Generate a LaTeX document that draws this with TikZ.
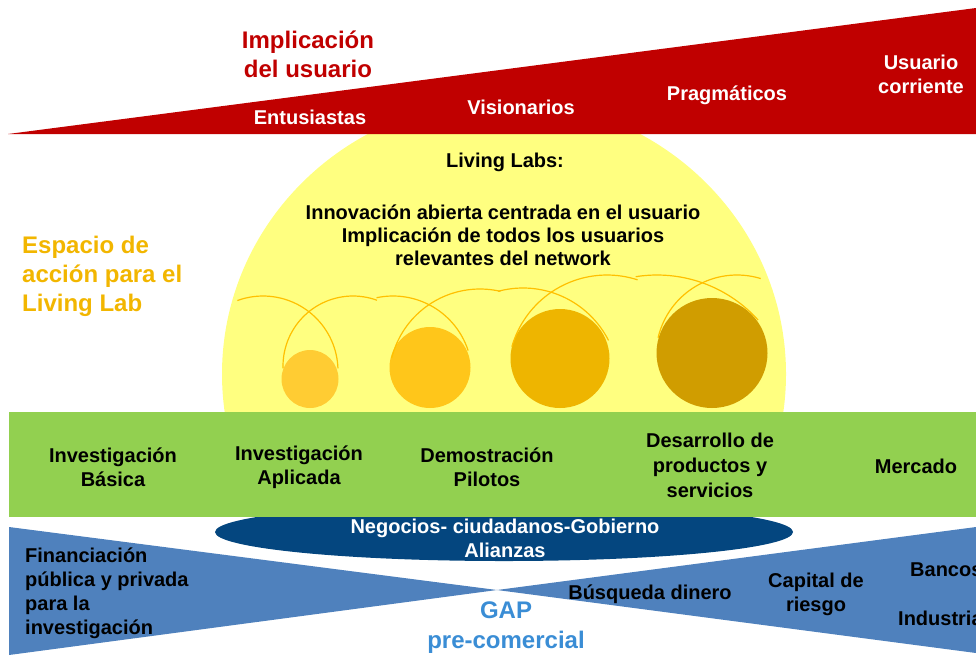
\documentclass[tikz,border=0pt]{standalone}
\usepackage{fontspec}
\setmainfont{Liberation Sans}
\definecolor{redc}{HTML}{C00000}
\definecolor{yelc}{HTML}{FFFF80}
\definecolor{greenc}{HTML}{92D050}
\definecolor{navyc}{HTML}{04467F}
\definecolor{bluec}{HTML}{4F81BD}
\definecolor{gapc}{HTML}{3A8DD5}
\definecolor{orangec}{HTML}{F2B600}
\definecolor{cA}{HTML}{FFCC33}
\definecolor{cB}{HTML}{FFC61A}
\definecolor{cC}{HTML}{EEB500}
\definecolor{cD}{HTML}{D09D00}
\definecolor{arcc}{HTML}{FFC000}
\begin{document}
\begin{tikzpicture}[x=1pt,y=-1pt,
  txt/.style={font=\bfseries\fontsize{20}{24}\selectfont, inner sep=0pt, align=center},
  bigtxt/.style={font=\bfseries\fontsize{24}{29}\selectfont, inner sep=0pt},
  arcline/.style={draw=arcc, line width=1.2pt}]
\useasboundingbox (0,0) rectangle (976,657);
\clip (0,0) rectangle (976,657);
% yellow disc (upper part only)
\begin{scope}
\clip (0,0) rectangle (976,412);
\fill[yelc] (504,374) ellipse [x radius=282, y radius=274];
\end{scope}
% red wedge
\fill[redc] (8,134) -- (976,8) -- (976,134) -- cycle;
% circles
\fill[cA] (310,379) ellipse [x radius=28.5, y radius=29];
\fill[cB] (430,367.5) ellipse [x radius=40.5, y radius=40.5];
\fill[cC] (560,358.5) ellipse [x radius=49.5, y radius=49.5];
\fill[cD] (712,353) ellipse [x radius=55.5, y radius=55];
% arcs
\draw[arcline] plot[domain=2:110, samples=40] ({263+75*cos(\x)},{371-75*sin(\x)});
\draw[arcline] plot[domain=70:182, samples=40] ({353+70*cos(\x)},{366-70*sin(\x)});
\draw[arcline] plot[domain=18:102, samples=40] ({393+79*cos(\x)},{375-79*sin(\x)});
\draw[arcline] plot[domain=77:166, samples=40] ({480+91*cos(\x)},{380-91*sin(\x)});
\draw[arcline] plot[domain=27:105, samples=40] ({523+96*cos(\x)},{384-96*sin(\x)});
\draw[arcline] plot[domain=72:164, samples=40] ({607+99*cos(\x)},{374-99*sin(\x)});
\draw[arcline] plot[domain=42:99, samples=40] ({657+136*cos(\x)},{411-136*sin(\x)});
\draw[arcline] plot[domain=73:167, samples=40] ({737+81*cos(\x)},{356-81*sin(\x)});
% bowtie
\fill[bluec] (9,527) -- (497,590) -- (9,655) -- cycle;
\fill[bluec] (497,590) -- (976,527) -- (976,653) -- cycle;
% navy ellipse (top hidden by the green band)
\fill[navyc] (504,532) ellipse [x radius=289, y radius=29];
% green band
\fill[greenc] (9,412) rectangle (976,517);
% texts top
\node[bigtxt, text=redc, align=center] (impl) at (308,54) {Implicaci\'on\\del usuario};
\node[txt, text=white] (ent) at (310,117) {Entusiastas};
\node[txt, text=white] (vis) at (521,107) {Visionarios};
\node[txt, text=white] (pra) at (727,95) {Pragm\'aticos};
\node[txt, text=white] (usu) at (921,74) {Usuario\\corriente};
\node[txt] (ll) at (505,162) {Living Labs:};
\node[txt, font=\bfseries\fontsize{20}{23}\selectfont] (inn) at (503,235) {Innovaci\'on abierta centrada en el usuario\\Implicaci\'on de todos los usuarios\\relevantes del network};
\node[bigtxt, text=orangec, align=left, anchor=west] (esp) at (22,276) {Espacio de\\acci\'on para el\\Living Lab};
% green band texts
\node[txt] (ib) at (113,467) {Investigaci\'on\\B\'asica};
\node[txt] (ia) at (299,467) {Investigaci\'on\\Aplicada};
\node[txt] (dp) at (487,467) {Demostraci\'on\\Pilotos};
\node[txt, font=\bfseries\fontsize{20}{25}\selectfont] (dps) at (710,465) {Desarrollo de\\productos y\\servicios};
\node[txt] (mer) at (916,466) {Mercado};
% ellipse text
\node[txt, text=white] (neg) at (505,538) {Negocios- ciudadanos-Gobierno\\Alianzas};
% bowtie texts
\node[txt, align=left, anchor=west] (fin) at (25,593) {Financiaci\'on\\p\'ublica y privada\\para la\\investigaci\'on};
\node[txt] (bus) at (650,594) {B\'usqueda dinero};
\node[txt] (cap) at (816,594) {Capital de\\riesgo};
\node[txt, anchor=west] (ban) at (910,570) {Bancos};
\node[txt, anchor=west] (ind) at (898,618) {Industria};
\node[bigtxt, text=gapc, align=center, font=\bfseries\fontsize{24}{30}\selectfont] (gap) at (506,628) {GAP\\pre-comercial};
\end{tikzpicture}
\end{document}
